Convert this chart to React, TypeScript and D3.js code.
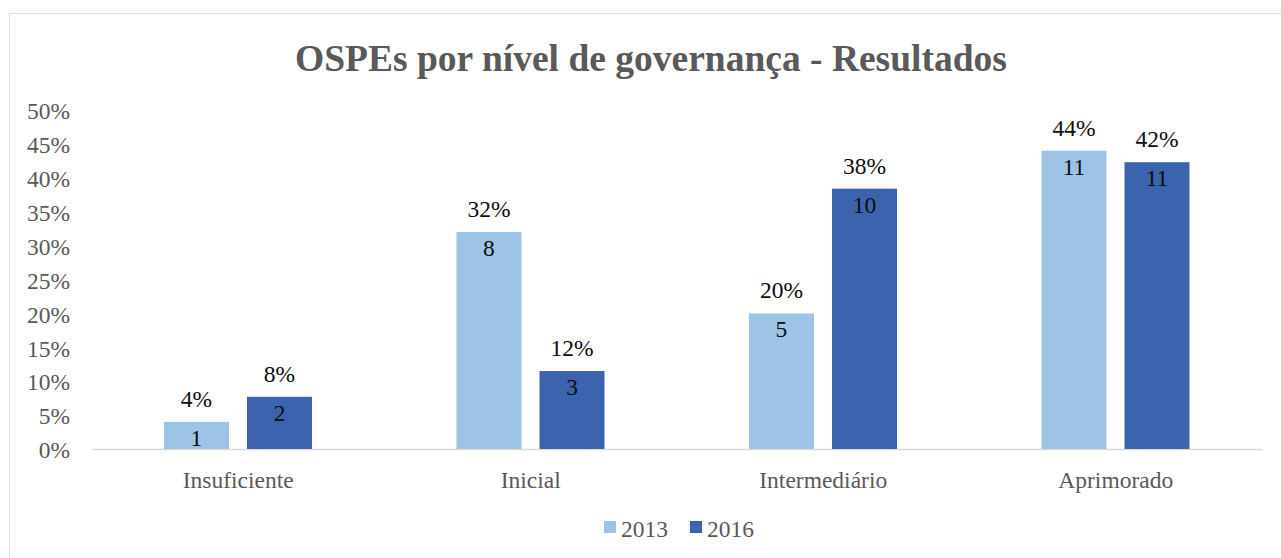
import * as d3 from 'd3';
import { useEffect, useRef } from 'react';

const categories = ['Insuficiente', 'Inicial', 'Intermediário', 'Aprimorado'];
const seriesNames = ['2013', '2016'];
const pct2013 = [4, 32, 20, 44];
const pct2016 = [7.7, 11.5, 38.4, 42.3];
const count2013 = [1, 8, 5, 11];
const count2016 = [2, 3, 10, 11];
const yTicks = [0, 5, 10, 15, 20, 25, 30, 35, 40, 45, 50];
const colors = ['#9DC3E6', '#3C64AE'];

const W = 1281;
const H = 558;
const FONT = '"Liberation Serif", "Times New Roman", serif';
const FS = 23.5;

const App = () => {
  const svgRef = useRef<SVGSVGElement | null>(null);

  useEffect(() => {
    const svg = d3.select(svgRef.current);
    svg.selectAll('*').remove();

    const plot = { left: 92, right: 1262, top: 110, bottom: 449 };

    // chart frame
    svg.append('rect')
      .attr('x', 9.5).attr('y', 13.5)
      .attr('width', W).attr('height', H)
      .attr('fill', '#fff').attr('stroke', '#d9d9d9');

    svg.append('text')
      .attr('x', 651).attr('y', 71)
      .attr('text-anchor', 'middle')
      .attr('font-family', FONT).attr('font-weight', 'bold')
      .attr('font-size', 37.5).attr('fill', '#595959')
      .text('OSPEs por nível de governança - Resultados');

    // ── Scales ──
    const x0 = d3.scaleBand<string>().domain(categories).range([plot.left, plot.right]).padding(0);
    const x1 = d3.scaleBand<string>().domain(seriesNames).range([72, 220]).paddingInner(0.217).paddingOuter(0);
    const y = d3.scaleLinear().domain([0, 50]).range([plot.bottom, plot.top]);

    // y tick labels
    svg.append('g').selectAll('text').data(yTicks).join('text')
      .attr('x', 70).attr('y', d => y(d) + 1)
      .attr('dy', '0.35em')
      .attr('text-anchor', 'end')
      .attr('font-family', FONT).attr('font-size', FS).attr('fill', '#595959')
      .text(d => `${d}%`);

    // x axis line
    svg.append('line')
      .attr('x1', plot.left).attr('x2', plot.right)
      .attr('y1', plot.bottom + 0.5).attr('y2', plot.bottom + 0.5)
      .attr('stroke', '#d9d9d9').attr('stroke-width', 1.5);

    svg.append('g').selectAll('text').data(categories).join('text')
      .attr('x', d => (x0(d) ?? 0) + x0.bandwidth() / 2)
      .attr('y', 488)
      .attr('text-anchor', 'middle')
      .attr('font-family', FONT).attr('font-size', FS).attr('fill', '#595959')
      .text(d => d);

    // ── Bars ──
    const series = [
      { name: seriesNames[0], pct: pct2013, count: count2013, color: colors[0] },
      { name: seriesNames[1], pct: pct2016, count: count2016, color: colors[1] }
    ];

    series.forEach(s => {
      const g = svg.append('g');
      const rows = categories.map((c, i) => ({ c, p: s.pct[i], n: s.count[i] }));
      const bx = (d: { c: string }) => (x0(d.c) ?? 0) + (x1(s.name) ?? 0);

      g.selectAll('rect').data(rows).join('rect')
        .attr('x', bx)
        .attr('y', d => y(d.p))
        .attr('width', x1.bandwidth())
        .attr('height', d => y(0) - y(d.p))
        .attr('fill', s.color);

      g.selectAll('text.pct').data(rows).join('text')
        .attr('class', 'pct')
        .attr('x', d => bx(d) + x1.bandwidth() / 2)
        .attr('y', d => y(d.p) - 15)
        .attr('text-anchor', 'middle')
        .attr('font-family', FONT).attr('font-size', FS).attr('fill', '#0d0d0d')
        .text(d => `${Math.round(d.p)}%`);

      g.selectAll('text.count').data(rows).join('text')
        .attr('class', 'count')
        .attr('x', d => bx(d) + x1.bandwidth() / 2)
        .attr('y', d => y(d.p) + 24)
        .attr('text-anchor', 'middle')
        .attr('font-family', FONT).attr('font-size', FS).attr('fill', '#0d0d0d')
        .text(d => d.n);
    });

    // ── Legend ──
    const legendX = [604, 690];
    const lg = svg.append('g');
    series.forEach((s, i) => {
      lg.append('rect')
        .attr('x', legendX[i]).attr('y', 521)
        .attr('width', 12).attr('height', 12)
        .attr('fill', s.color);
      lg.append('text')
        .attr('x', legendX[i] + 17).attr('y', 537)
        .attr('font-family', FONT).attr('font-size', FS).attr('fill', '#595959')
        .text(s.name);
    });
  }, []);

  return (
    <svg
      ref={svgRef}
      width={W}
      height={H}
      style={{ position: 'absolute', left: 0, top: 0, background: '#fff' }}
    />
  );
};

export default App;
